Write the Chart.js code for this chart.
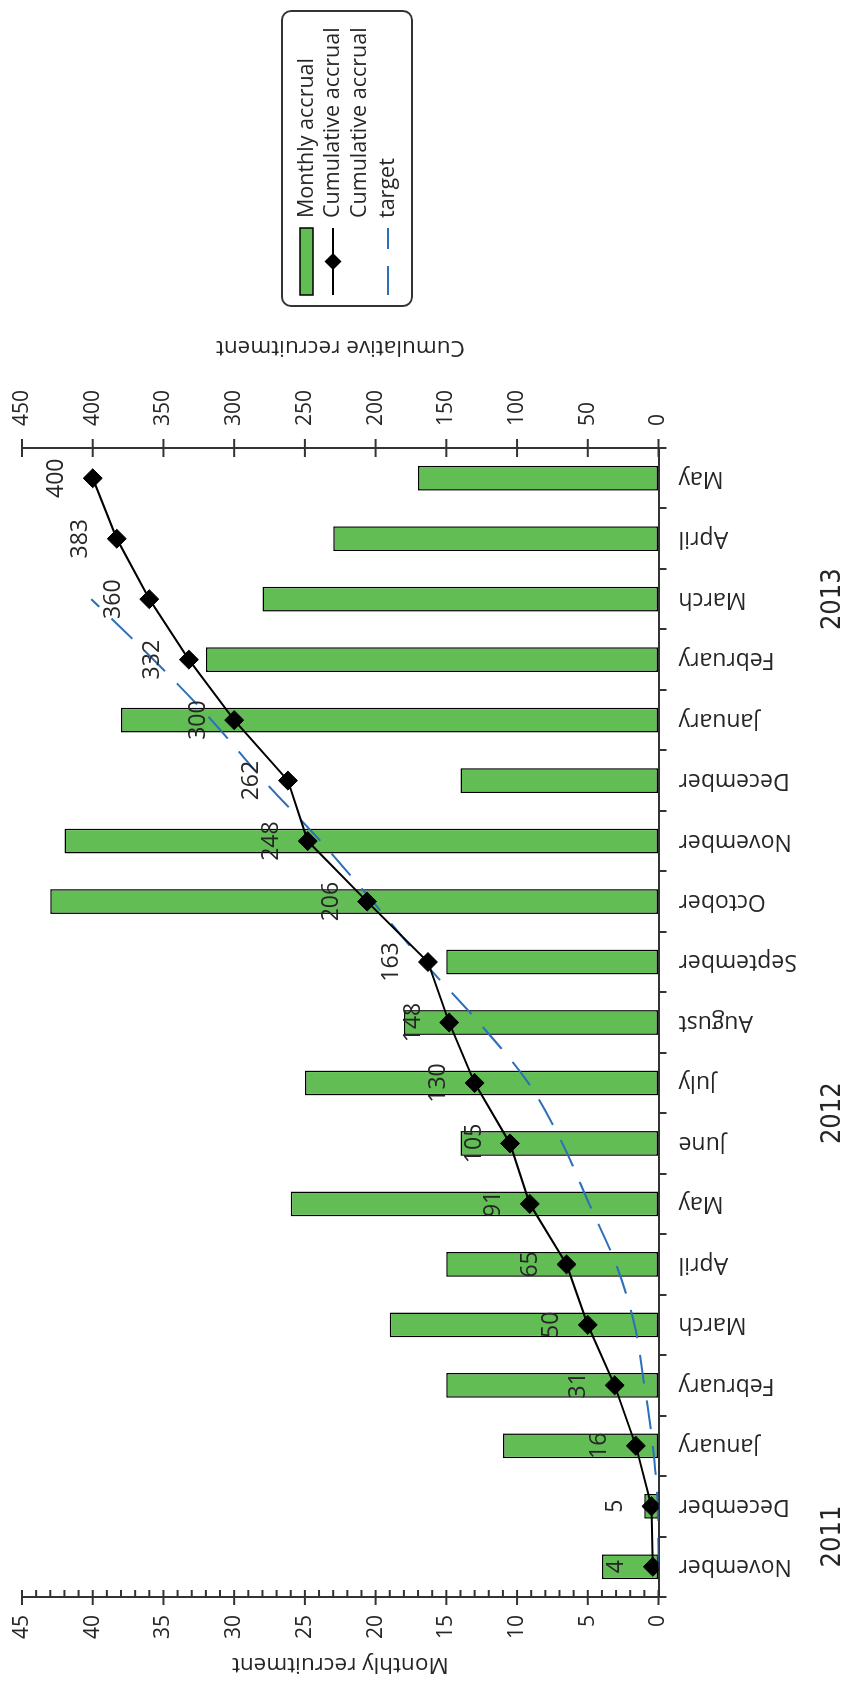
<!DOCTYPE html>
<html>
<head>
<meta charset="utf-8">
<title>Recruitment</title>
<script src="https://cdn.jsdelivr.net/npm/chart.js@4.4.1/dist/chart.umd.min.js"></script>
<style>
  html, body { margin: 0; padding: 0; background: #fff; overflow: hidden; }
  /* the chart is drawn landscape and turned a quarter turn to the left */
  #wrap {
    position: absolute; left: 0; top: 0;
    width: 1686px; height: 845px;
    transform-origin: 0 0;
    transform: translate(0, 1686px) rotate(-90deg);
  }
</style>
</head>
<body>
<div id="wrap"><canvas id="chart" width="1686" height="845"></canvas></div>
<script>
const months = ["November", "December", "January", "February", "March", "April", "May", "June",
  "July", "August", "September", "October", "November", "December", "January", "February",
  "March", "April", "May"];
const years = ["2011", "2012", "2013"];
const yearFirst = [0, 2, 14];
const yearLast = [1, 13, 18];

const monthly = [4, 1, 11, 15, 19, 15, 26, 14, 25, 18, 15, 43, 42, 14, 38, 32, 28, 23, 17];
const cumulative = [4, 5, 16, 31, 50, 65, 91, 105, 130, 148, 163, 206, 248, 262, 300, 332, 360, 383, 400];
const target = [0, 0.5, 4, 10, 17, 30, 49, 68, 92, 127, 166, 202, 239, 279, 316, 357, 401, null, null];

const monthlyMax = 45, monthlyStep = 5;
const cumulativeMax = 450, cumulativeStep = 50;

const legendLines = [["Monthly accrual"], ["Cumulative accrual"], ["Cumulative accrual", "target"]];

const green = "#62bd55";
const blue = "#2e6fba";
const axisColor = "#333";
const textColor = "#262626";
const fontFamily = "'Open Sans', 'Noto Sans', sans-serif";

Chart.defaults.font.family = fontFamily;
Chart.defaults.font.size = 21;
Chart.defaults.color = textColor;

function diamond(ctx, x, y, r) {
  ctx.beginPath();
  ctx.moveTo(x, y - r);
  ctx.lineTo(x + r, y);
  ctx.lineTo(x, y + r);
  ctx.lineTo(x - r, y);
  ctx.closePath();
  ctx.fill();
}

// keep the plot box where the reference has it
function noPad(s) {
  s.paddingTop = 0; s.paddingBottom = 0; s.paddingLeft = 0; s.paddingRight = 0;
}

const extras = {
  id: "extras",
  afterDatasetsDraw(chart) {
    const ctx = chart.ctx;
    const meta = chart.getDatasetMeta(0);
    ctx.save();
    ctx.font = "23px " + fontFamily;
    ctx.fillStyle = textColor;
    ctx.textAlign = "center";
    ctx.textBaseline = "middle";
    meta.data.forEach((pt, i) => {
      ctx.fillText(String(cumulative[i]), pt.x, pt.y - 36);
    });
    ctx.restore();
  },
  afterDraw(chart) {
    const ctx = chart.ctx;
    const y = chart.scales.y, y1 = chart.scales.y1, x = chart.scales.x;
    const area = chart.chartArea;
    ctx.save();
    ctx.strokeStyle = axisColor;
    ctx.lineWidth = 2;

    // left axis: major ticks cross the line, minor ticks point inwards
    for (let v = 0; v <= monthlyMax; v++) {
      const py = y.getPixelForValue(v);
      ctx.beginPath();
      if (v % monthlyStep === 0) {
        ctx.moveTo(area.left - 8, py); ctx.lineTo(area.left + 7, py);
      } else {
        ctx.moveTo(area.left, py); ctx.lineTo(area.left + 7, py);
      }
      ctx.stroke();
    }
    // right axis
    for (let v = 0; v <= cumulativeMax; v += cumulativeStep) {
      const py = y1.getPixelForValue(v);
      ctx.beginPath();
      ctx.moveTo(area.right - 9, py); ctx.lineTo(area.right + 9, py);
      ctx.stroke();
    }

    // axis titles
    ctx.fillStyle = textColor;
    ctx.font = "22.5px " + fontFamily;
    ctx.textAlign = "center";
    ctx.textBaseline = "middle";
    const midY = (area.top + area.bottom) / 2;
    [["Monthly recruitment", 22], ["Cumulative recruitment", 1339]].forEach(([t, tx]) => {
      ctx.save();
      ctx.translate(tx, midY);
      ctx.rotate(-Math.PI / 2);
      ctx.fillText(t, 0, 0);
      ctx.restore();
    });

    // year labels under the months
    ctx.font = "27px 'Liberation Sans Narrow', 'DejaVu Sans Condensed', sans-serif";
    years.forEach((yr, i) => {
      const cx = (x.getPixelForValue(yearFirst[i]) + x.getPixelForValue(yearLast[i])) / 2;
      ctx.fillText(yr, cx, 833);
    });

    // legend
    const bx = 1380, by = 282, bw = 295, bh = 130;
    ctx.beginPath();
    ctx.roundRect(bx, by, bw, bh, 9);
    ctx.stroke();
    ctx.font = "21.5px " + fontFamily;
    ctx.textAlign = "left";
    const sx0 = 1391, sx1 = 1458, tx = 1468;
    // bar swatch
    ctx.fillStyle = green;
    ctx.fillRect(sx0, 300, sx1 - sx0, 13);
    ctx.strokeStyle = "#000";
    ctx.lineWidth = 1.5;
    ctx.strokeRect(sx0, 300, sx1 - sx0, 13);
    // line swatch
    ctx.lineWidth = 2;
    ctx.beginPath(); ctx.moveTo(sx0, 333); ctx.lineTo(sx1, 333); ctx.stroke();
    ctx.fillStyle = "#000";
    diamond(ctx, (sx0 + sx1) / 2, 333, 8.5);
    // target swatch
    ctx.strokeStyle = blue;
    ctx.setLineDash([29, 17]);
    ctx.beginPath(); ctx.moveTo(sx0, 388); ctx.lineTo(sx1, 388); ctx.stroke();
    ctx.setLineDash([]);
    ctx.fillStyle = textColor;
    ctx.fillText(legendLines[0][0], tx, 307);
    ctx.fillText(legendLines[1][0], tx, 333);
    ctx.fillText(legendLines[2][0], tx, 360);
    ctx.fillText(legendLines[2][1], tx, 388);
    ctx.restore();
  }
};

new Chart(document.getElementById("chart"), {
  type: "bar",
  data: {
    labels: months,
    datasets: [
      {
        type: "line",
        label: "Cumulative accrual",
        data: cumulative,
        yAxisID: "y1",
        borderColor: "#000",
        borderWidth: 2,
        pointStyle: "rectRot",
        pointRadius: 9.5,
        pointBackgroundColor: "#000",
        pointBorderColor: "#000",
        pointBorderWidth: 1,
        tension: 0,
        order: 1
      },
      {
        type: "line",
        label: "Cumulative accrual target",
        data: target,
        yAxisID: "y1",
        borderColor: blue,
        borderWidth: 2,
        borderDash: [29, 17],
        pointRadius: 0,
        cubicInterpolationMode: "monotone",
        order: 2
      },
      {
        type: "bar",
        label: "Monthly accrual",
        data: monthly,
        yAxisID: "y",
        backgroundColor: green,
        borderColor: "#000",
        borderWidth: 1.5,
        borderSkipped: false,
        categoryPercentage: 1,
        barPercentage: 0.41,
        order: 3
      }
    ]
  },
  options: {
    responsive: false,
    animation: false,
    devicePixelRatio: 1,
    layout: { padding: { left: 0, top: 22, right: 348, bottom: 0 } },
    plugins: { legend: { display: false }, tooltip: { enabled: false } },
    scales: {
      x: {
        offset: true,
        grid: { offset: true, drawOnChartArea: false, tickLength: 8, color: axisColor, lineWidth: 2 },
        border: { display: true, color: axisColor, width: 2 },
        ticks: { autoSkip: false, minRotation: 90, maxRotation: 90, padding: 12, color: textColor, font: { size: 23 } },
        afterFit(s) { s.height = 186.5; noPad(s); }
      },
      y: {
        position: "left",
        min: 0,
        max: monthlyMax,
        ticks: { stepSize: monthlyStep, padding: 18, color: textColor },
        grid: { drawOnChartArea: false, drawTicks: false },
        border: { display: true, color: axisColor, width: 2 },
        afterFit(s) { s.width = 89; noPad(s); }
      },
      y1: {
        position: "right",
        min: 0,
        max: cumulativeMax,
        ticks: { stepSize: cumulativeStep, padding: 22, color: textColor },
        grid: { drawOnChartArea: false, drawTicks: false },
        border: { display: true, color: axisColor, width: 2 },
        afterFit(s) { s.width = 100; noPad(s); }
      }
    }
  },
  plugins: [extras]
});
</script>
</body>
</html>
